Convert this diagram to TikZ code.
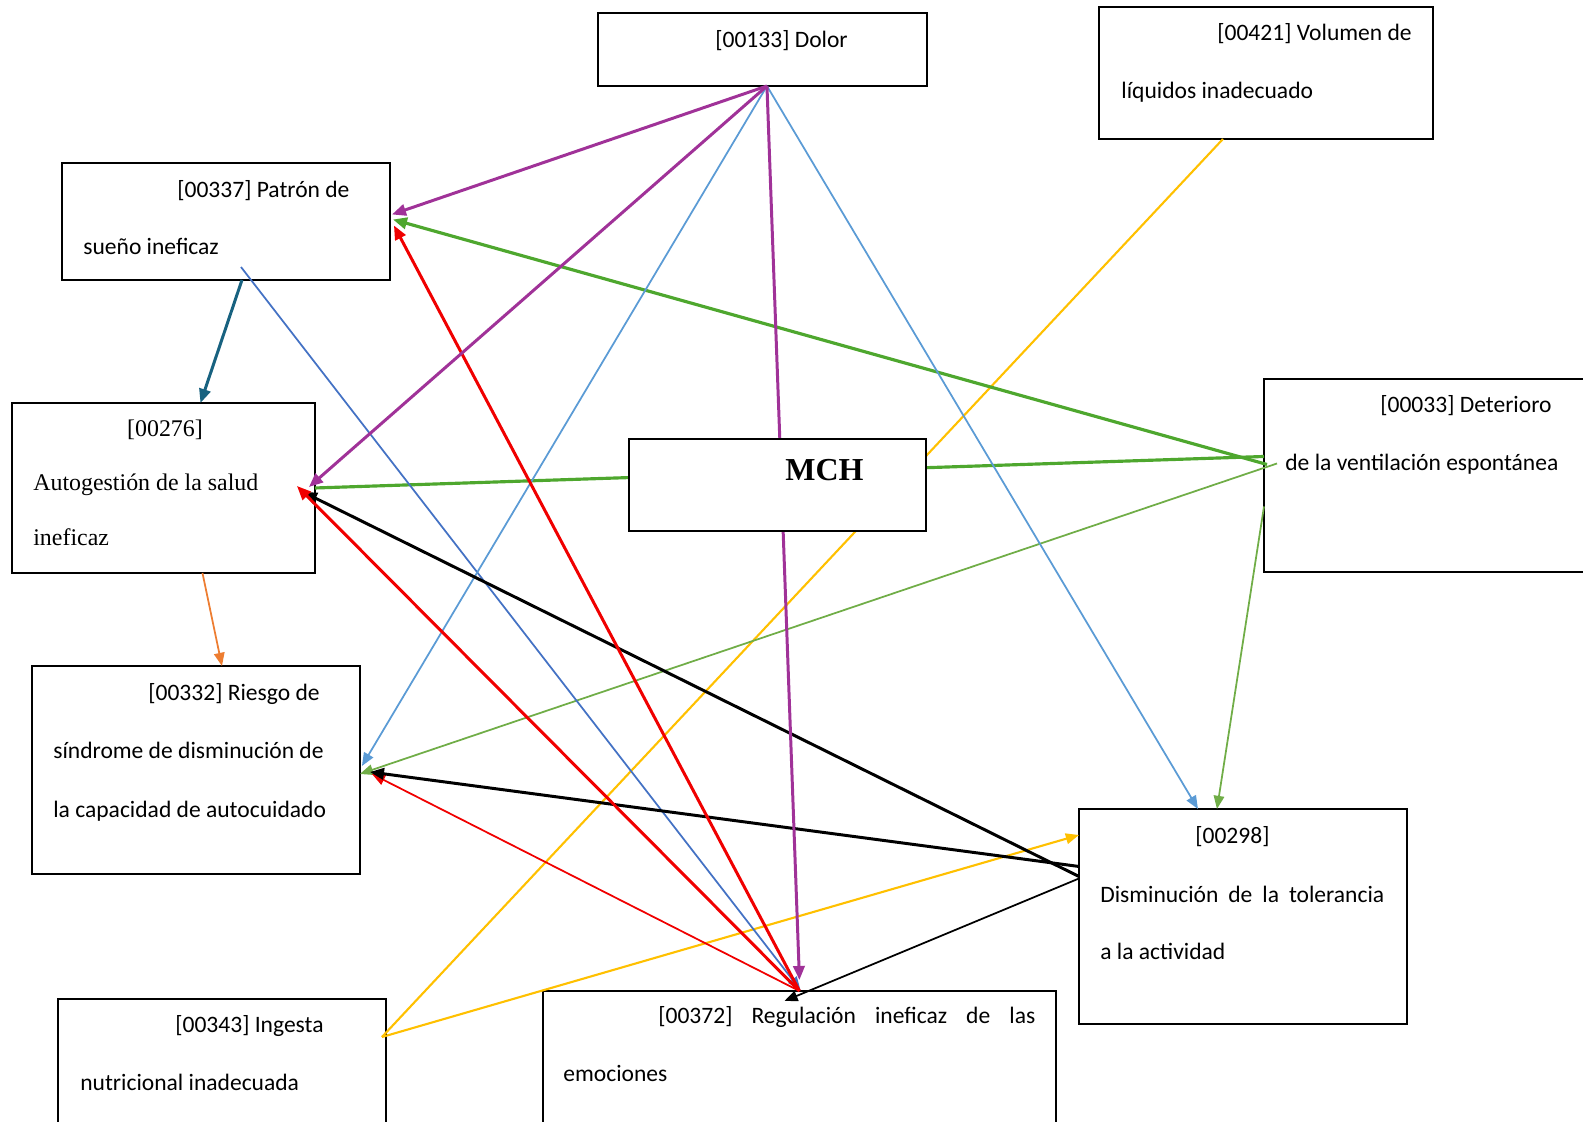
\documentclass[tikz,border=0pt]{standalone}
\usepackage{fontspec}
\setmainfont{Carlito}
\newfontfamily\timesfont{Liberation Serif}
\usetikzlibrary{arrows.meta,calc}

\begin{document}
\begin{tikzpicture}[x=0.02cm, y=-0.02cm, font=\fontsize{13.4}{16}\selectfont,
    box/.style={draw, line width=1pt, inner sep=0pt, outer sep=0pt, anchor=north west},
    lbl/.style={inner sep=0pt, anchor=base west},
    heavy/.style={line width=1.7pt, -{Triangle[length=8pt,width=6.5pt]}},
    light/.style={line width=1pt, -{Triangle[length=7.5pt,width=6pt]}}]

% Define Colors
\definecolor{painColor}{RGB}{160,50,152}
\definecolor{skyColor}{RGB}{91,155,213}
\definecolor{blueColor}{RGB}{68,114,196}
\definecolor{ventColor}{RGB}{78,167,46}
\definecolor{leafColor}{RGB}{112,173,71}
\definecolor{tealColor}{RGB}{24,98,128}
\definecolor{orangeColor}{RGB}{237,125,49}
\definecolor{redColor}{RGB}{240,0,0}
\definecolor{amberColor}{RGB}{255,192,0}

\useasboundingbox (0,0) rectangle (1583,1122);
\clip (0,0) rectangle (1583,1122);

% --- SECTION 1: THE BOXES ---
    \node[box, minimum width=6.58cm, minimum height=1.46cm] (dolor) at (598,13) {};
    \node[box, minimum width=6.68cm, minimum height=2.64cm] (n421) at (1099,7) {};
    \node[box, minimum width=6.56cm, minimum height=2.34cm] (n337) at (62,163) {};
    \node[box, minimum width=6.06cm, minimum height=3.40cm] (n276) at (12,403) {};
    \node[box, minimum width=6.56cm, minimum height=4.16cm] (n332) at (32,666) {};
    \node[box, minimum width=6.56cm, minimum height=2.82cm] (n343) at (58,999) {};
    \node[box, minimum width=10.26cm, minimum height=2.98cm] (n372) at (543,991) {};
    \node[box, minimum width=6.56cm, minimum height=4.30cm] (n298) at (1079,809) {};
    \node[box, minimum width=6.72cm, minimum height=3.86cm] (n033) at (1264,379) {};

% --- SECTION 2: THE TEXTS ---
    \node[lbl] (t133) at (715,48) {[00133] Dolor};
    \node[lbl, anchor=base east] (t421a) at (1412,41) {[00421] Volumen de};
    \node[lbl] (t421b) at (1121,99) {líquidos inadecuado};
    \node[lbl] (t337a) at (177,197) {[00337] Patrón de};
    \node[lbl] (t337b) at (83,255) {sueño ineficaz};
    \node[lbl, anchor=base, font=\timesfont\fontsize{13.6}{16}\selectfont] (t276a) at (165,436) {[00276]};
    \node[lbl, font=\timesfont\fontsize{13.6}{16}\selectfont] (t276b) at (33,490) {Autogestión de la salud};
    \node[lbl, font=\timesfont\fontsize{13.6}{16}\selectfont] (t276c) at (33,545) {ineficaz};
    \node[lbl] (t332a) at (148,700) {[00332] Riesgo de};
    \node[lbl] (t332b) at (53,758) {síndrome de disminución de};
    \node[lbl] (t332c) at (53,817) {la capacidad de autocuidado};
    \node[lbl] (t343a) at (175,1032) {[00343] Ingesta};
    \node[lbl] (t343b) at (80,1090) {nutricional inadecuada};
    \node[lbl] (t372a) at (658,1023) {\makebox[7.54cm][s]{[00372] Regulación ineficaz de las}};
    \node[lbl] (t372b) at (563,1081) {emociones};
    \node[lbl] (t298a) at (1195,843) {[00298]};
    \node[lbl] (t298b) at (1100,902) {\makebox[5.68cm][s]{Disminución de la tolerancia}};
    \node[lbl] (t298c) at (1100,959) {a la actividad};
    \node[lbl] (t033a) at (1380,412) {[00033] Deterioro};
    \node[lbl] (t033b) at (1285,470) {de la ventilación espontánea};

% --- SECTION 3: THE LINKS ---
% yellow
    \draw[line width=1.2pt, amberColor] ($(n421.south)+(-43,0)$) -- ($(n343.north east)+(-4,38)$);
    \draw[light, line width=1.2pt, amberColor] ($(n343.north east)+(-4,38)$) -- ($(n298.north west)+(0,26)$);

% green from 00033
    \draw[line width=1.8pt, ventColor] ($(n033.west)+(0,-19)$) -- (n276.east);
    \draw[heavy, line width=1.8pt, ventColor] ($(n033.west)+(3,-11)$) -- ($(n337.east)+(3,-2)$);
    \draw[light, leafColor] ($(n033.west)+(13,-12)$) -- ($(n332.east)+(0,4)$);
    \draw[light, leafColor] ($(n033.west)+(0,31)$) -- ($(n298.north)+(-26,0)$);

% from 00337 and 00276
    \draw[heavy, tealColor] ($(n337.south)+(16,0)$) -- ($(n276.north)+(37,0)$);
    \draw[light, orangeColor] ($(n276.south)+(39,0)$) -- ($(n332.north)+(26,0)$);
    \draw[light, blueColor] ($(n337.south)+(15,-13)$) -- ($(n372.north)+(1,-1)$);

% blue from Dolor
    \draw[light, skyColor] ($(dolor.south)+(4.5,0)$) -- ($(n332.east)+(2,-4)$);
    \draw[light, skyColor] ($(dolor.south)+(4.5,0)$) -- ($(n298.north)+(-45,0)$);

% black from 00298
    \draw[light, black] ($(n298.west)+(0,-38)$) -- ($(n372.north)+(-15,10)$);
    \draw[light, redColor] (n372.north) -- ($(n332.east)+(12,4)$);
    \draw[heavy, black] ($(n298.west)+(0,-50)$) -- ($(n332.east)+(10,2)$);
    \draw[heavy, black] ($(n298.west)+(0,-40)$) -- ($(n276.east)+(-12,4)$);

% red from 00372
    \draw[heavy, redColor] (n372.north) -- ($(n337.east)+(4,4)$);
    \draw[heavy, redColor] (n372.north) -- ($(n276.east)+(-18,-2)$);

% purple from Dolor
    \draw[heavy, painColor] ($(dolor.south)+(4.5,0)$) -- ($(n337.east)+(2,-7)$);
    \draw[heavy, painColor] ($(dolor.south)+(4.5,0)$) -- ($(n276.east)+(-6,-1)$);
    \draw[heavy, painColor] ($(dolor.south)+(4.5,0)$) -- ($(n372.north)+(0,-11)$);

% --- SECTION 4: MCH on top ---
    \node[box, fill=white, minimum width=5.94cm, minimum height=1.84cm] (mch) at (629,439) {};
    \node[lbl, font=\timesfont\bfseries\fontsize{18.2}{20}\selectfont] (tmch) at (785,480) {MCH};

\end{tikzpicture}
\end{document}
